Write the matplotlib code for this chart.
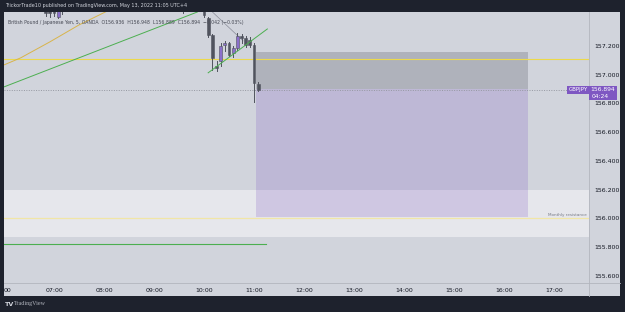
import matplotlib.pyplot as plt
from matplotlib.lines import Line2D
from matplotlib.patches import Rectangle

# =========================
# Data
# =========================

# 5 minute candles (time, open, high, low, close)
candle_times = ["06:50", "06:55", "07:00", "07:05", "07:10", "09:35",
                "10:00", "10:05", "10:10", "10:15", "10:20", "10:25",
                "10:30", "10:35", "10:40", "10:45", "10:50", "10:55",
                "11:00", "11:05"]
opens = [157.50, 157.48, 157.47, 157.40, 157.50, 157.50,
         157.47, 157.394, 157.276, 157.061, 157.096, 157.207,
         157.221, 157.151, 157.186, 157.269, 157.256, 157.242,
         157.207, 156.936]
highs = [157.55, 157.52, 157.50, 157.50, 157.55, 157.55,
         157.50, 157.40, 157.28, 157.096, 157.22, 157.235,
         157.228, 157.20, 157.29, 157.28, 157.27, 157.26,
         157.22, 156.948]
lows = [157.41, 157.40, 157.405, 157.395, 157.425, 157.43,
        157.40, 157.262, 157.03, 157.026, 157.06, 157.165,
        157.13, 157.12, 157.17, 157.22, 157.19, 157.19,
        156.81, 156.889]
closes = [157.43, 157.43, 157.43, 157.48, 157.45, 157.46,
          157.415, 157.276, 157.117, 157.047, 157.20, 157.221,
          157.138, 157.186, 157.269, 157.256, 157.207, 157.207,
          156.943, 156.894]

# moving average and long trend line
ma_times = ["06:00", "06:20", "06:55", "07:30", "08:10"]
ma_values = [157.068, 157.117, 157.228, 157.346, 157.46]
trend_times = ["06:00", "09:52"]
trend_values = [156.915, 157.436]

# short rising trend line and a thin guide line
wedge_times = ["10:05", "11:16"]
wedge_values = [157.013, 157.318]
guide_times = ["10:05", "10:47"]
guide_values = [157.464, 157.235]

# horizontal levels
upper_yellow = 157.11
monthly_resistance = 156.0
green_level = 155.825
green_level_end = "11:14"
zone_low, zone_high = 155.874, 156.2

# short position tool
position_start, position_end = "11:02", "16:29"
entry_price = 156.90
stop_price = 157.158
target_price = 156.01

last_price = 156.894
countdown = "04:24"

price_ticks = [155.6, 155.8, 156.0, 156.2, 156.4, 156.6, 156.8, 157.0, 157.2]
time_ticks = ["06:00", "07:00", "08:00", "09:00", "10:00", "11:00",
              "12:00", "13:00", "14:00", "15:00", "16:00", "17:00"]


def hours(t):
    h, m = t.split(":")
    return int(h) + int(m) / 60


# =========================
# Figure
# =========================

W, H = 625, 312
dark = "#1e222d"
bg = "#d1d4dc"

fig = plt.figure(figsize=(W / 100, H / 100), dpi=100, facecolor=dark)


def box(x0, y0, x1, y1):
    # pixel box (top-left origin) -> figure rect
    return [x0 / W, 1 - y1 / H, (x1 - x0) / W, (y1 - y0) / H]


back = fig.add_axes(box(4, 12, 620, 296))
back.set_facecolor(bg)
back.set_xticks([])
back.set_yticks([])
for s in back.spines.values():
    s.set_visible(False)

ax = fig.add_axes(box(4, 12, 589, 283))
ax.set_facecolor(bg)
ax.set_xlim(6.0, 6.0 + 585 / 50)
ax.set_ylim(155.551, 157.436)
for s in ax.spines.values():
    s.set_visible(False)

# zone and levels
ax.axhspan(zone_low, zone_high, color="#e6e7ec", zorder=1, lw=0)
ax.axhline(upper_yellow, color="#ecd94a", lw=0.8, zorder=3)
ax.axhline(monthly_resistance, color="#f1e6a6", lw=0.9, zorder=3)
ax.plot([6.0, hours(green_level_end)], [green_level, green_level],
        color="#4caf50", lw=0.8, zorder=3)

# position tool
x0 = hours(position_start)
x1 = hours(position_end)
ax.add_patch(Rectangle((x0, entry_price), x1 - x0, stop_price - entry_price,
                       facecolor="#787b86", alpha=0.38, lw=0, zorder=2))
ax.add_patch(Rectangle((x0, target_price), x1 - x0, entry_price - target_price,
                       facecolor="#7e57c2", alpha=0.22, lw=0, zorder=2))

# lines
ax.plot([hours(t) for t in ma_times], ma_values, color="#d8b44a", lw=0.7, zorder=3)
ax.plot([hours(t) for t in trend_times], trend_values, color="#4caf50", lw=0.7, zorder=3)
ax.plot([hours(t) for t in wedge_times], wedge_values, color="#4caf50", lw=0.7, zorder=5)
ax.plot([hours(t) for t in guide_times], guide_values, color="#8a8d99", lw=0.5, zorder=3)

ax.axhline(last_price, color="#9598a1", lw=0.7, ls=(0, (1, 1.5)), zorder=3)

# candles
bw = 0.055
for t, o, hi, lo, c in zip(candle_times, opens, highs, lows, closes):
    x = hours(t)
    col = "#8b6fcb" if c > o else "#50535e"
    ax.plot([x, x], [lo, hi], color="#50535e", lw=0.7, zorder=4)
    ax.add_patch(Rectangle((x - bw / 2, min(o, c)), bw, max(abs(c - o), 0.004),
                           facecolor=col, edgecolor="#50535e", lw=0.4, zorder=4))

# legend line
ax.text(0.007, 0.962,
        "British Pound / Japanese Yen, 5, OANDA  O156.936  H156.948  L156.889  C156.894  \u22120.042 (\u22120.03%)",
        transform=ax.transAxes, fontsize=3.3, color="#434651", va="center", zorder=3)

ax.text(0.9965, monthly_resistance + 0.025, "Monthly resistance", ha="right", va="center",
        transform=ax.get_yaxis_transform(), fontsize=3, color="#787b86", zorder=6)

# axes ticks
ax.yaxis.tick_right()
ax.set_yticks(price_ticks)
ax.set_yticklabels([f"{p:.3f}" for p in price_ticks])
ax.set_xticks([hours(t) for t in time_ticks])
ax.set_xticklabels([t if t != "06:00" else "00" for t in time_ticks])
ax.tick_params(axis="y", length=0, pad=3.8, labelsize=4.5, labelcolor="#131722")
ax.tick_params(axis="x", length=0, pad=3.5, labelsize=4.5, labelcolor="#131722")
xl = ax.get_xticklabels()
xl[0].set_horizontalalignment("left")
xl[0].set_x(6.0)

# price labels
ax.text(0.9985, last_price, "GBPJPY", transform=ax.get_yaxis_transform(),
        ha="right", va="center", fontsize=4, color="white", zorder=7,
        bbox=dict(boxstyle="square,pad=0.3", fc="#7e57c2", ec="none"))
fig.patches.append(Rectangle((589 / W, 1 - 100 / H), 28 / W, 14 / H,
                             transform=fig.transFigure, fc="#7e57c2", ec="none", zorder=7))
fig.text(615 / W, 1 - 89.5 / H, f"{last_price:.3f}", ha="right", va="center",
         fontsize=4.3, color="white", zorder=8)
fig.text(592 / W, 1 - 96.5 / H, countdown, ha="left", va="center",
         fontsize=4.3, color="white", zorder=8)

# separators
fig.add_artist(Line2D([589 / W, 589 / W], [1 - 296 / H, 1 - 12 / H], color="#b2b5be", lw=0.6))
fig.add_artist(Line2D([4 / W, 620 / W], [1 - 283 / H, 1 - 283 / H], color="#b2b5be", lw=0.6))

# header and footer
fig.text(5 / W, 1 - 6 / H,
         "TrickorTrade10 published on TradingView.com, May 13, 2022 11:05 UTC+4",
         fontsize=3.5, color="#d1d4dc", va="center")
fig.text(5 / W, 1 - 304 / H, "TV", fontsize=4.6, color="#d1d4dc",
         va="center", fontweight="bold")
fig.text(14 / W, 1 - 304 / H, "TradingView", fontsize=4.3, color="#b2b5be",
         va="center", family="Liberation Serif")

fig.savefig("out.png", dpi=100, facecolor=dark)
